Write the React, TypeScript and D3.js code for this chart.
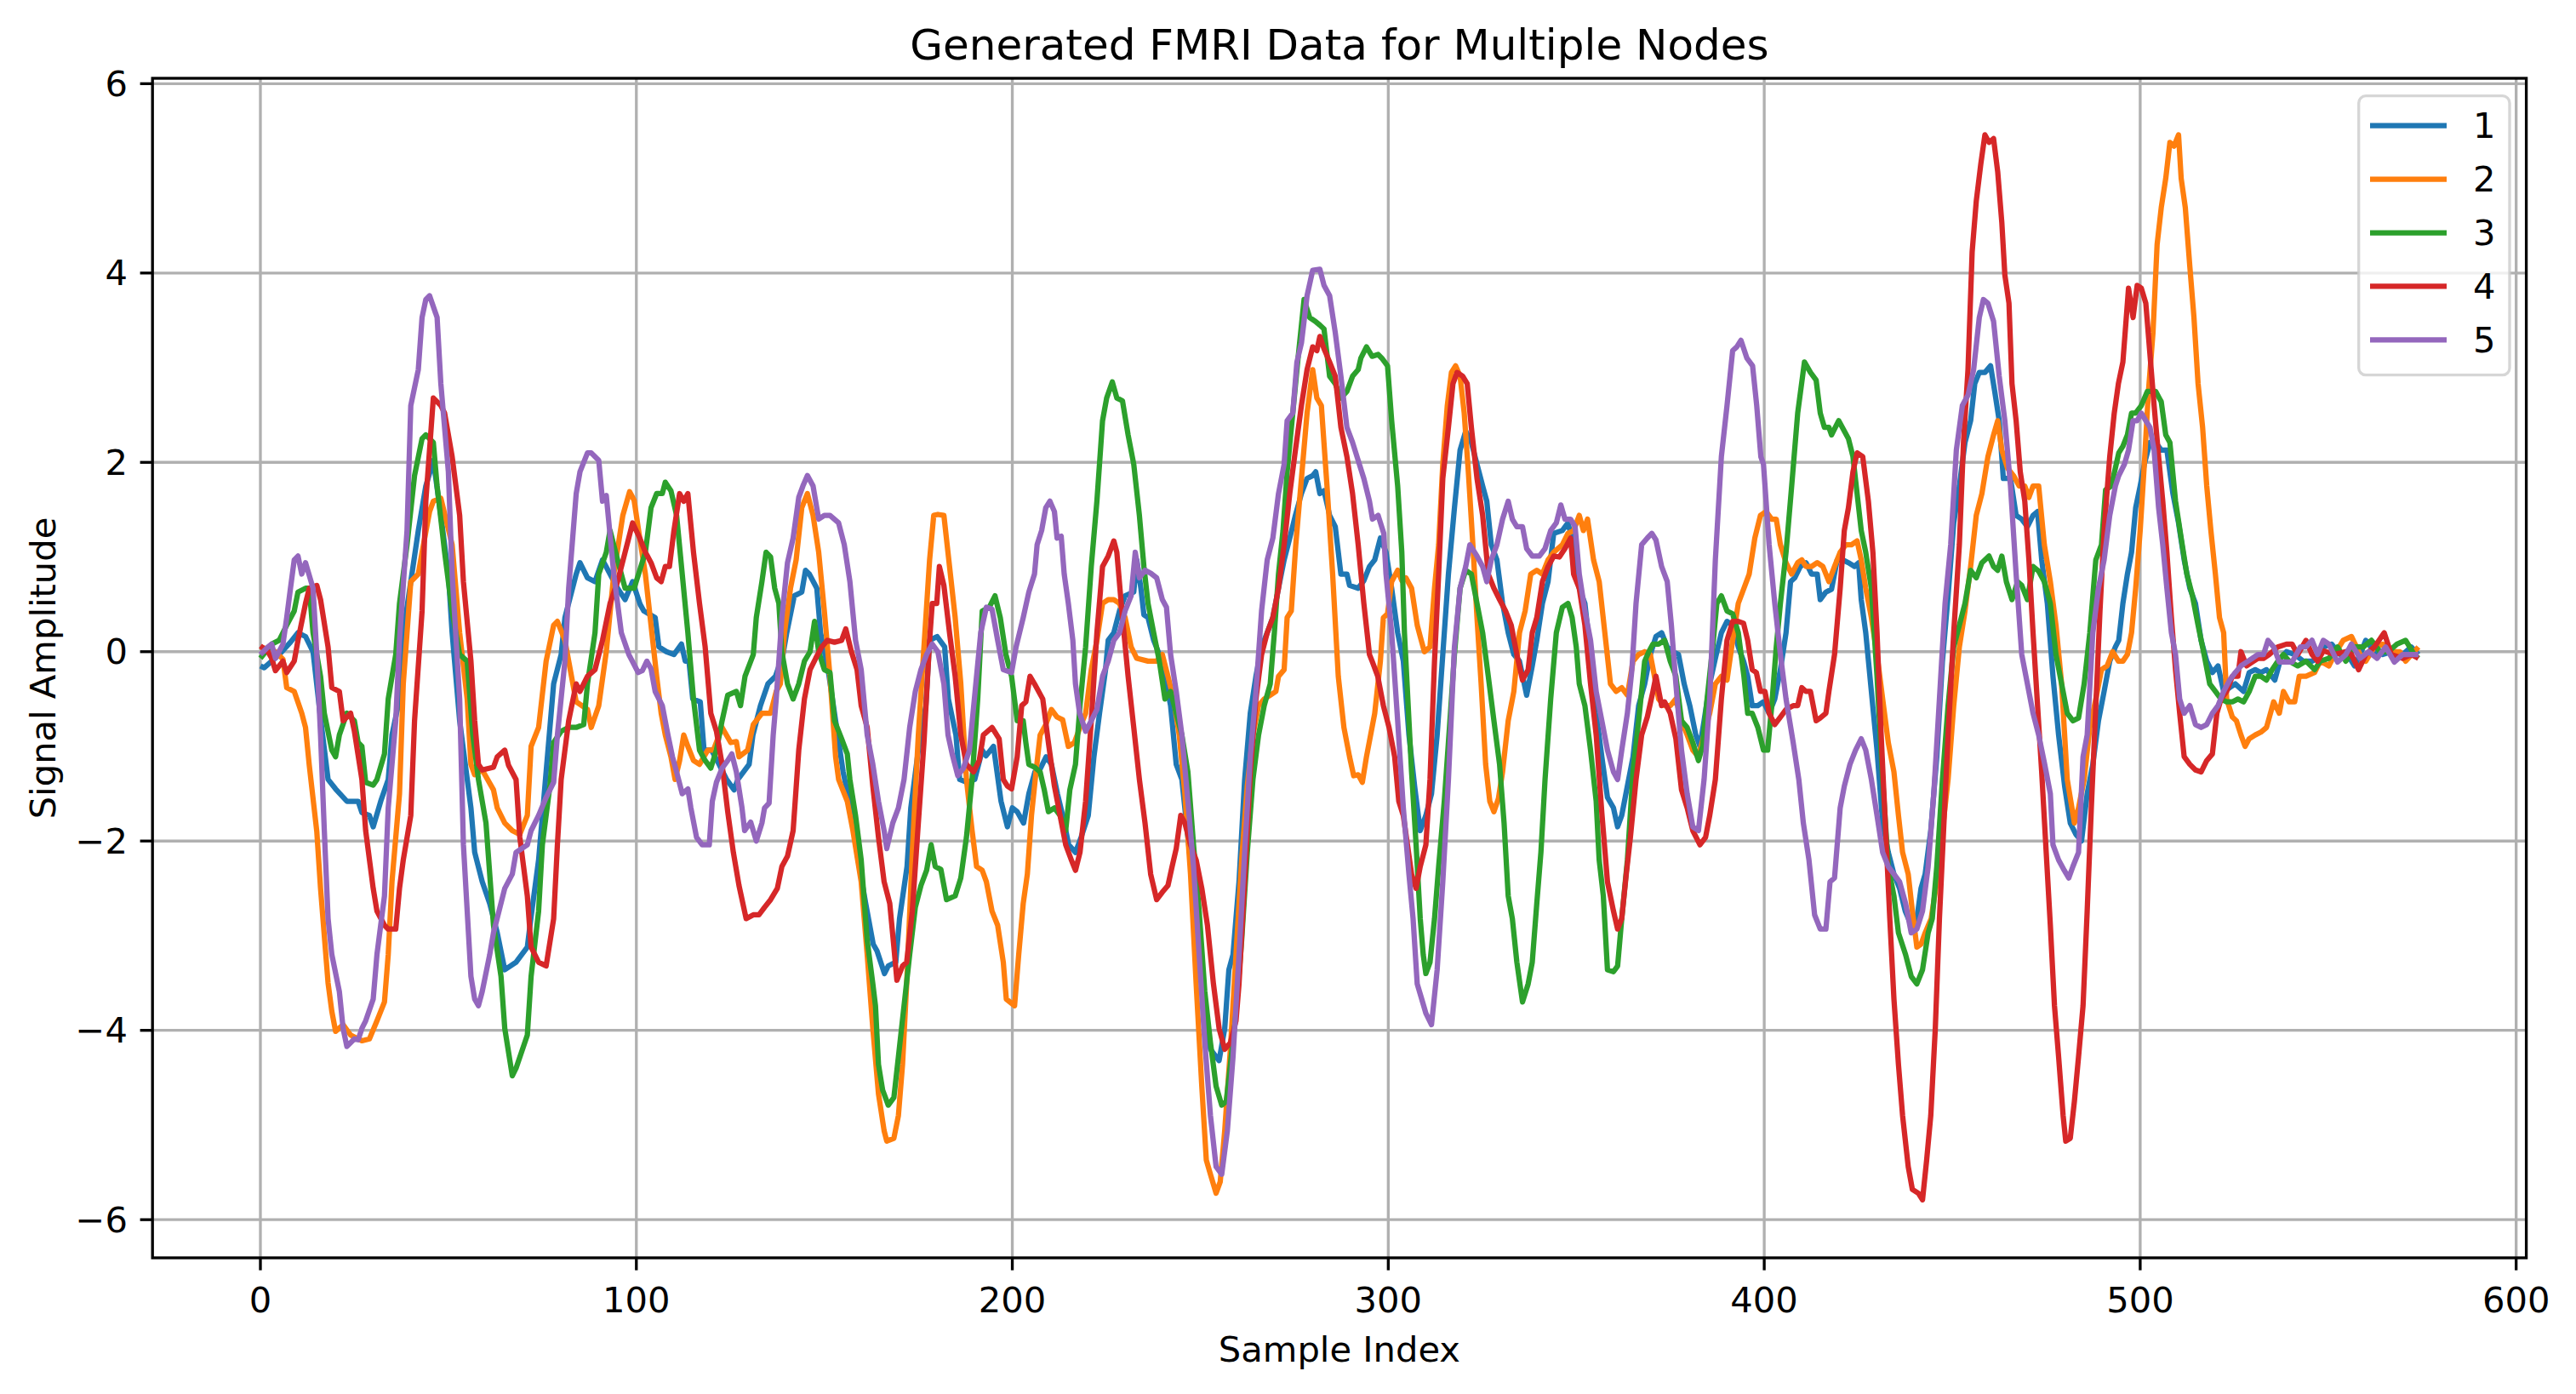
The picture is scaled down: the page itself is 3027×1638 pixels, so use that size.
import React from "react";
import * as d3 from "d3";

// ---------- data: [sample index, signal amplitude] ----------
const node1: [number, number][] = [
  [0,-0.15],[1,-0.17],[5,-0.03],[8,0.1],[10,0.2],[12,0.16],[14,0.0],[16,-0.7],[18,-1.35],[20,-1.45],[23,-1.58],[26,-1.58],[27,-1.7],[29,-1.73],[30,-1.85],[32,-1.58],[34,-1.35],[35,-0.88],[37,-0.5],[38,0.2],[40,0.74],[42,1.28],[44,1.75],[46,2.02],[48,1.44],[50,0.82],[51,0.2],[53,-0.73],[56,-1.65],[57,-2.12],[59,-2.43],[61,-2.66],[63,-2.97],[65,-3.36],[68,-3.28],[71,-3.12],[72,-2.8],[74,-2.2],[76,-1.27],[78,-0.34],[80,-0.03],[81,0.36],[84,0.82],[85,0.94],[87,0.78],[89,0.74],[91,0.97],[93,0.82],[95,0.67],[97,0.55],[99,0.74],
  [101,0.5],[102,0.43],[105,0.36],[106,0.05],[108,0.0],[110,-0.03],[112,0.08],[113,-0.1],[114,-0.1],[115,-0.5],[117,-0.53],[118,-1.04],[120,-1.04],[122,-1.19],[124,-1.35],[126,-1.46],[127,-1.35],[130,-1.19],[131,-0.88],[133,-0.57],[135,-0.34],[137,-0.26],[139,-0.03],[140,0.2],[142,0.59],[144,0.63],[145,0.86],[146,0.82],[148,0.67],[149,0.2],[151,-0.19],[153,-0.73],[155,-1.27],[157,-1.65],[159,-2.2],[161,-2.66],[163,-3.09],[164,-3.16],[166,-3.4],[167,-3.32],[169,-3.28],[170,-2.82],[172,-2.27],[173,-1.65],[175,-1.04],[177,-0.57],[178,0.12],[180,0.16],[182,0.05],[183,-0.5],[185,-0.88],[186,-1.35],[188,-1.38],[190,-1.35],[192,-1.04],[193,-1.1],[195,-1.0],
  [197,-1.58],[198.7,-1.85],[200,-1.65],[201.3,-1.69],[203,-1.81],[204.4,-1.5],[206,-1.27],[207.4,-1.24],[209,-1.11],[210.4,-1.19],[212,-1.5],[213.4,-1.73],[215,-2.04],[216.8,-2.12],[218.3,-1.96],[220.2,-1.73],[221.7,-1.11],[223.2,-0.65],[224.8,-0.19],[225.5,0.12],[227,0.2],[228.5,0.43],[230,0.59],[232.3,0.63],[233.1,0.97],[234.2,0.67],[235,0.39],[236.1,0.36],[237.6,0.12],[239.1,-0.03],[240.6,-0.26],[242.1,-0.57],[243.6,-1.19],[245.1,-1.35],[246.7,-1.96],[248.2,-2.5],[249.7,-3.2],[251.2,-3.9],[252.7,-4.2],[255,-4.32],[256.5,-3.98],[257.6,-3.36],[258.7,-3.2],[260.3,-2.43],[261.8,-1.35],[263.3,-0.65],[264.8,-0.26],[266.3,0.05],[267.8,0.2],[269.3,0.36],[270.8,0.67],[272.3,0.97],[273.8,1.2],[275.3,1.44],[276.9,1.67],[278.4,1.83],[279.9,1.86],[280.7,1.9],[281.8,1.67],[282.9,1.7],[284.4,1.44],[285.9,1.32],[287.4,0.82],[289,0.82],[289.7,0.7],[292,0.67],[293.5,0.75],
  [295,0.9],[296.4,0.97],[297.9,1.2],[299.4,1.05],[300.9,0.67],[302.5,0.2],[304,-0.1],[305.5,-0.88],[307,-1.42],[308.5,-1.89],[310,-1.73],[311.5,-1.5],[313,-0.88],[314.5,-0.03],[316,0.82],[317.6,1.52],[319.1,2.13],[320.6,2.33],[322.1,2.21],[323.6,1.98],[325.1,1.75],[326.2,1.59],[327.4,1.13],[328.9,0.97],[330.4,0.51],[331.9,0.2],[333.4,-0.03],[334.9,-0.1],[336.8,-0.46],[338.3,-0.15],[339.5,0.12],[341,0.51],[342.5,0.74],[344,1.25],[346.3,1.28],[347.8,1.36],[349.3,1.13],[350.8,0.67],[352.3,0.51],[353.8,-0.03],[355.3,-0.65],[356.8,-1.11],[358.3,-1.54],[359.9,-1.65],[361,-1.85],[362.1,-1.73],[363.6,-1.42],[365.1,-1.11],[366.6,-0.57],[368.2,-0.34],[369.7,-0.03],[371.2,0.16],[372.7,0.2],[374.2,0.05],[375.7,0.0],[377.2,-0.03],[378.7,-0.34],[380.2,-0.57],[381.8,-0.88],[382.9,-1.0],[384,-0.73],[385.5,-0.34],[387,-0.07],[388.6,0.2],[390.1,0.32],[391.6,0.28],[393.1,0.05],
  [394.5,-0.1],[395.6,-0.26],[396.8,-0.57],[398.3,-0.57],[399.8,-0.53],[401.3,-0.65],[402.8,-0.5],[404.3,-0.19],[405.8,0.2],[407,0.74],[408.1,0.78],[409.6,0.9],[411.1,0.94],[412.6,0.82],[414.1,0.82],[414.9,0.55],[416.4,0.63],[417.9,0.66],[419.4,0.97],[420.9,0.97],[422.4,0.94],[424,0.9],[425.1,0.94],[425.8,0.55],[427,0.2],[428.5,-0.42],[430,-1.04],[431.5,-1.81],[433,-2.12],[434.5,-2.35],[436,-2.5],[437.5,-2.74],[439.1,-2.89],[440.6,-2.82],[441.7,-2.5],[442.8,-2.35],[444.3,-1.89],[445.9,-1.11],[447.4,-0.1],[448.9,0.59],[450.4,1.36],[451.9,1.75],[453.4,2.21],[454.9,2.44],[456,2.83],[457.2,2.95],[458.7,2.95],[460.2,3.02],[461.3,2.75],[462.5,2.44],[463.6,1.83],[465.5,1.83],[467,1.44],[468.5,1.4],[470,1.32],[471.5,1.44],[472.7,1.48],[473.8,0.97],[475.3,0.51],[476.8,-0.26],[478.3,-0.88],[479.9,-1.42],[481.4,-1.81],[482.9,-1.93],[484.4,-2.0],[485.9,-1.5],[487.4,-1.19],[488.9,-0.73],[490.4,-0.42],[491.9,-0.1],[493.4,0.05],
  [494.3,0.12],[495.4,0.51],[496.6,0.82],[497.7,1.05],[498.8,1.52],[500,1.75],[501.1,1.98],[502.6,2.21],[504.1,2.21],[505.6,2.13],[507.1,2.13],[508.7,1.67],[510.2,1.36],[511.7,0.97],[513.2,0.67],[514.7,0.51],[516.2,0.12],[517.7,-0.1],[519.2,-0.22],[520.7,-0.15],[522.2,-0.42],[523.8,-0.38],[525.3,-0.34],[527.5,-0.42],[529,-0.22],[530.6,-0.19],[532.1,-0.22],[533.6,-0.19],[535.8,-0.3],[537.4,-0.07],[538.9,0.0],[541.1,-0.03],[543.4,-0.1],[545.7,-0.1],[547.2,-0.07],[548.7,0.05],[550.9,0.08],[553.2,-0.03],[554.7,0.0],[557,-0.15],[558.5,-0.03],[560,0.12],[562.3,0.0],[564.5,-0.03],[566.8,0.0],[569.8,-0.03],[572.1,0.05],[574,-0.03]
];

const node2: [number, number][] = [
  [0,0.05],[4,0.0],[6,-0.08],[7,-0.38],[9,-0.42],[11,-0.65],[12,-0.8],[13,-1.2],[15,-1.9],[16,-2.5],[17,-3.0],[18,-3.5],[19,-3.8],[20,-4.01],[22,-3.94],[24,-4.05],[27,-4.11],[29,-4.09],[31,-3.9],[33,-3.7],[34,-3.2],[35,-2.43],[37,-1.5],[38,-0.34],[40,0.74],[42,0.82],[43,1.05],[45,1.48],[46,1.59],[48,1.62],[51,1.13],[53,0.2],[55,-0.5],[56,-1.19],[57,-1.3],[59,-1.25],[62,-1.46],[63,-1.65],[65,-1.81],[67,-1.89],[69,-1.93],[71,-1.73],[72,-1.0],[74,-0.8],[76,-0.1],[78,0.28],[79,0.32],[81,0.12],[82,-0.1],[84,-0.53],[87,-0.61],[88,-0.8],[90,-0.57],[92,0.0],[94,0.82],[96.4,1.44],
  [98.2,1.69],[99.4,1.6],[100.9,1.2],[102.4,0.82],[103.9,0.28],[105.4,-0.26],[106.6,-0.65],[107.7,-0.88],[109.2,-1.11],[110.3,-1.35],[111.5,-1.15],[112.6,-0.88],[113.7,-1.0],[115.2,-1.15],[116.8,-1.19],[119,-1.04],[120.5,-1.04],[122.8,-0.8],[125.1,-0.96],[126.6,-0.95],[127.3,-1.11],[129.6,-1.04],[131.1,-0.77],[133.4,-0.65],[135.7,-0.65],[137.2,-0.42],[138.3,-0.34],[139.4,0.2],[141,0.67],[142.5,0.97],[144,1.52],[145.5,1.67],[147,1.44],[148.5,1.05],[150,0.43],[151.5,-0.26],[153,-1.11],[153.8,-1.35],[156.1,-1.58],[157.6,-1.89],[159.8,-2.43],[161.4,-3.2],[162.9,-3.98],[164.4,-4.67],[165.9,-5.06],[166.6,-5.17],[168.5,-5.14],[169.7,-4.9],[170.8,-4.36],[171.9,-3.51],[173.4,-2.12],[175,-0.88],[176.5,0.05],[178,0.97],[179.1,1.44],[180.2,1.45],[181.8,1.44],[183.3,0.9],[184.8,0.36],[186.3,-0.34],[187.8,-1.35],[189.3,-1.89],[190.5,-2.27],[192,-2.31],[193.1,-2.43],[194.6,-2.74],[196.1,-2.89],[197.6,-3.28],[198.4,-3.67],
  [200.6,-3.74],[201.7,-3.2],[202.9,-2.66],[204,-2.35],[205.1,-1.73],[206.3,-1.27],[207.4,-0.88],[208.9,-0.77],[210.4,-0.61],[211.9,-0.69],[213.4,-0.72],[214.9,-1.0],[216.5,-0.96],[218,-0.8],[219.5,-0.65],[221,-0.19],[222.5,0.12],[224,0.51],[225.5,0.55],[227,0.55],[228.5,0.51],[230,0.36],[231.6,0.05],[233.1,-0.07],[236.1,-0.1],[238.4,-0.1],[239.9,-0.03],[241.4,-0.26],[242.9,-0.5],[244.4,-0.88],[245.9,-1.5],[247.4,-2.35],[248.9,-3.51],[250.4,-4.59],[251.6,-5.37],[252.7,-5.52],[254.2,-5.72],[255.3,-5.6],[256.5,-5.06],[258,-4.2],[259.5,-3.2],[261,-2.2],[262.5,-1.42],[264,-0.88],[265.5,-0.57],[267,-0.5],[268.6,-0.46],[270.1,-0.42],[270.8,-0.26],[272.3,-0.19],[273.1,0.36],[274.2,0.43],[275.4,1.13],[276.9,1.83],[278.4,2.52],[279.9,2.98],[281,2.68],[282.2,2.6],[283.7,1.75],[285.2,0.82],[286.7,-0.26],[288.2,-0.8],[289.7,-1.11],[290.8,-1.31],[292,-1.3],[293.1,-1.38],[294.2,-1.11],
  [296.4,-0.65],[297.9,-0.1],[298.7,0.36],[299.8,0.4],[300.9,0.74],[302.5,0.86],[303.6,0.75],[304.7,0.78],[306.2,0.67],[307.7,0.28],[308.5,0.16],[309.6,0.0],[311.1,0.05],[312.3,0.67],[313.4,1.13],[314.5,1.98],[315.7,2.6],[316.8,2.95],[317.9,3.02],[319.1,2.91],[320.2,2.52],[321.3,1.9],[322.5,1.13],[323.6,0.36],[324.7,-0.34],[325.9,-1.19],[327,-1.58],[328.1,-1.69],[329.3,-1.55],[330.4,-1.27],[331.9,-0.73],[333.4,-0.42],[334.9,0.2],[336.4,0.43],[337.9,0.82],[339.5,0.86],[341,0.82],[342.5,0.97],[344,1.05],[346.3,1.13],[347.8,1.25],[349.3,1.28],[350.8,1.44],[351.9,1.28],[353,1.4],[354.6,0.97],[356.1,0.74],[357.6,0.2],[359.1,-0.34],[360.6,-0.42],[362.1,-0.38],[363.6,-0.46],[365.1,-0.1],[366.6,-0.03],[368.2,0.0],[369.7,-0.03],[370.8,-0.26],[371.9,-0.5],[373.5,-0.57],[375,-0.57],[376.5,-0.5],[378,-0.73],[379.5,-0.88],[381,-1.04],[382.5,-1.11],[384,-0.88],[385.5,-0.65],[387,-0.34],[388.6,-0.26],[390.1,-0.3],[391.6,0.12],[393.1,0.51],
  [394.6,0.67],[396,0.82],[397.5,1.2],[399,1.44],[400.5,1.48],[402,1.4],[403.2,1.4],[404.3,1.13],[405.8,0.94],[407.3,0.82],[408.9,0.94],[410,0.97],[411.1,0.9],[412.6,0.9],[414.1,0.94],[415.6,0.9],[417.2,0.74],[418.7,0.9],[420.2,1.05],[421.7,1.13],[423.2,1.13],[424.7,1.17],[425.8,0.97],[427,0.67],[428.5,0.36],[430,-0.03],[431.5,-0.5],[433,-0.96],[434.5,-1.27],[435.7,-1.73],[436.8,-2.12],[438.3,-2.35],[439.4,-2.74],[440.6,-3.12],[441.7,-3.09],[442.8,-2.97],[444.4,-2.82],[445.9,-2.43],[447.4,-1.89],[448.9,-1.35],[450.4,-0.57],[451.9,0.05],[453.4,0.43],[454.9,0.9],[456.4,1.44],[457.9,1.67],[459.5,2.06],[461,2.29],[462.1,2.44],[463.2,2.13],[464.7,1.94],[466.3,1.86],[467.8,1.75],[469.3,1.75],[470.4,1.63],[471.5,1.75],[473,1.75],[474.5,1.13],[476.1,0.74],[477.6,0.28],[479.1,-0.34],[480.6,-1.35],[482.5,-1.81],[483.6,-1.65],[485.1,-1.35],[486.6,-0.8],[488.2,-0.5],[489.7,-0.19],[491.2,-0.15],[492.7,0.0],[494.2,-0.1],
  [495.4,-0.1],[496.6,-0.03],[497.7,0.2],[498.8,0.67],[500,1.28],[501.1,1.98],[502.2,2.75],[503.4,3.37],[504.5,4.3],[505.6,4.69],[506.8,5.0],[507.9,5.38],[509,5.34],[510.2,5.46],[510.9,5.0],[512,4.69],[513.2,4.07],[514.3,3.53],[515.4,2.83],[516.6,2.37],[517.7,1.75],[518.8,1.28],[520,0.82],[521.1,0.36],[522.2,0.2],[523,-0.5],[524.5,-0.69],[525.6,-0.73],[526.8,-0.88],[527.9,-1.0],[529,-0.92],[530.6,-0.88],[532.1,-0.85],[533.6,-0.8],[535.5,-0.53],[537,-0.65],[538.1,-0.42],[539.6,-0.53],[541.1,-0.53],[542.3,-0.26],[544.1,-0.26],[546.4,-0.22],[547.9,-0.1],[550.2,-0.15],[551.7,-0.03],[554,0.12],[556.2,0.16],[558.5,-0.03],[560,-0.1],[562.3,0.05],[564.5,0.08],[566.8,0.0],[569.1,0.0],[570.6,-0.1],[572.9,0.0],[574,0.05]
];

const node3: [number, number][] = [
  [0,-0.07],[3,0.08],[5,0.12],[7,0.28],[9,0.43],[10,0.63],[12,0.67],[13,0.67],[14,0.2],[16,-0.26],[17,-0.65],[19,-1.04],[20,-1.11],[21,-0.88],[23,-0.65],[25,-0.73],[26,-0.96],[27,-1.0],[28,-1.38],[30,-1.41],[31,-1.35],[33,-1.08],[34,-0.5],[36,-0.03],[37,0.51],[39,1.13],[41,1.86],[43,2.25],[44,2.29],[46,2.21],[47,1.75],[49,1.05],[51,0.43],[53,-0.03],[55,-0.1],[56.5,-0.88],[58,-1.35],[60,-1.81],[61,-2.35],[62,-2.89],[64,-3.43],[65,-3.98],[67,-4.48],[68,-4.4],[71,-4.05],[72,-3.43],[74,-2.74],[75,-2.04],[77,-1.42],[78,-0.96],[80,-0.84],[82,-0.8],[84,-0.8],[86,-0.77],[87,-0.34],[89,0.2],[90,0.82],[92,1.05],[93,1.28],[95,0.97],[97,0.67],
  [99.4,0.67],[100.9,0.86],[102.4,1.05],[103.9,1.52],[105.4,1.67],[106.9,1.67],[107.7,1.79],[109.2,1.7],[110.7,1.44],[112.2,0.82],[113.7,0.2],[115.2,-0.5],[116.8,-1.04],[118.3,-1.15],[119.8,-1.23],[121.3,-1.04],[122.8,-0.73],[124.3,-0.46],[126.6,-0.42],[127.7,-0.57],[128.9,-0.26],[131.1,-0.03],[131.9,0.36],[133.4,0.74],[134.5,1.05],[135.7,1.0],[136.8,0.67],[137.9,0.51],[138.7,0.0],[140.2,-0.34],[141.7,-0.5],[143.2,-0.34],[144.7,-0.1],[146.2,0.0],[147.4,0.32],[148.5,0.0],[150,-0.19],[151.5,-0.22],[152.7,-0.73],[154.6,-0.92],[156.1,-1.08],[156.8,-1.35],[158.3,-1.73],[159.8,-2.2],[161.4,-3.05],[162.9,-3.51],[163.6,-3.74],[164.4,-4.36],[165.5,-4.63],[167,-4.79],[168.5,-4.71],[169.7,-4.28],[171.2,-3.74],[172.7,-3.2],[174.2,-2.7],[175.7,-2.47],[177.2,-2.31],[178.4,-2.04],[179.5,-2.27],[181,-2.3],[182.5,-2.62],[184.8,-2.58],[186.3,-2.39],[187.8,-1.96],[189.3,-1.35],[190.8,-0.5],[192,0.43],[193.9,0.47],[195.4,0.59],[196.8,0.36],[198.3,-0.03],[199.8,-0.26],
  [201.3,-0.73],[202.9,-0.73],[203.6,-0.96],[204.4,-1.19],[205.9,-1.22],[207.4,-1.27],[208.5,-1.46],[209.6,-1.69],[211.2,-1.65],[212.7,-1.73],[214.2,-1.89],[215.3,-1.46],[216.8,-1.19],[218,-0.57],[219.5,0.05],[221,0.9],[222.5,1.59],[224,2.44],[225.1,2.68],[226.6,2.85],[227.8,2.68],[229.3,2.65],[230.8,2.29],[232.3,1.98],[233.8,1.44],[235,0.9],[236.1,0.51],[237.6,0.2],[239.1,-0.1],[240.6,-0.5],[242.1,-0.42],[243.6,-0.65],[245.1,-0.88],[246.7,-1.27],[248.2,-2.04],[249.7,-2.74],[251.2,-3.59],[252.7,-4.13],[254.2,-4.59],[255.7,-4.79],[256.9,-4.75],[258,-4.36],[259.5,-3.82],[261,-3.05],[262.5,-2.12],[264,-1.35],[265.5,-0.88],[267,-0.57],[268.6,-0.34],[269.7,0.2],[270.8,0.82],[272,1.28],[273.1,1.9],[274.6,2.52],[276.1,3.14],[277.6,3.72],[279.1,3.53],[280.6,3.49],[281.8,3.45],[282.9,3.41],[284.4,2.91],[285.9,2.83],[287.4,2.68],[289,2.75],[290.5,2.91],[292,2.98],[292.7,3.1],[294.2,3.22],[295.7,3.12],[297.3,3.14],[298.3,3.1],[299.8,3.02],
  [300.9,2.44],[302.5,1.75],[303.6,1.05],[304.3,0.2],[305.5,-0.73],[306.2,-1.27],[307.4,-2.04],[308.5,-2.82],[309.3,-3.2],[310,-3.4],[311.1,-3.28],[312.3,-2.82],[313.4,-2.27],[314.9,-1.58],[316.4,-0.73],[317.6,-0.03],[319.1,0.67],[320.6,0.86],[322.1,0.82],[323.6,0.51],[325.1,0.2],[326.6,-0.26],[328.1,-0.73],[329.6,-1.19],[330.8,-1.81],[331.9,-2.58],[333,-2.82],[334.2,-3.28],[335.7,-3.7],[337.2,-3.51],[338.3,-3.28],[339.5,-2.66],[340.6,-2.12],[341.7,-1.35],[343.2,-0.5],[344.7,0.2],[346.3,0.47],[347.8,0.51],[348.9,0.36],[350,0.05],[350.8,-0.34],[352.3,-0.57],[353.8,-1.04],[355.3,-1.58],[356.1,-2.2],[357.2,-2.58],[358.3,-3.36],[359.9,-3.38],[361,-3.32],[362.1,-2.82],[363.6,-2.2],[365.1,-1.27],[366.6,-0.73],[368.2,-0.1],[369.3,0.0],[370.4,0.08],[371.9,0.08],[373.5,0.12],[375,-0.1],[376.5,-0.26],[378,-0.73],[379.5,-0.8],[381,-0.96],[382.5,-1.15],[383.6,-1.0],[384.8,-0.5],[386.3,0.05],[387.4,0.51],[388.6,0.59],[390.1,0.43],[391.6,0.4],[393.1,0.2],[394.6,-0.26],
  [395.6,-0.65],[396.8,-0.65],[398.3,-0.8],[399.8,-1.04],[400.9,-1.04],[402,-0.57],[403.2,0.05],[404.3,0.51],[405.8,1.05],[407.3,1.75],[408.9,2.52],[410.7,3.06],[412.3,2.95],[413.8,2.87],[414.9,2.52],[416,2.37],[417.2,2.37],[417.9,2.29],[419.8,2.44],[421.3,2.33],[422.4,2.25],[423.6,2.06],[424.7,1.67],[425.8,1.28],[427,1.05],[428.5,0.67],[430,-0.26],[431.5,-1.35],[433,-2.27],[434.5,-2.58],[435.7,-2.97],[437.6,-3.2],[439.1,-3.43],[440.6,-3.51],[442.1,-3.36],[443.6,-2.97],[444.7,-2.82],[445.9,-2.27],[447.4,-1.35],[448.9,-0.57],[450.4,0.05],[451.9,0.28],[453.4,0.51],[454.9,0.86],[456.4,0.78],[457.9,0.94],[459.8,1.01],[461,0.9],[462.1,0.86],[463.2,1.01],[464.4,0.74],[465.9,0.55],[467.4,0.74],[468.5,0.7],[470,0.55],[471.5,0.9],[473,0.85],[474.5,0.74],[476.1,0.51],[477.6,-0.03],[479.1,-0.34],[480.6,-0.65],[482.1,-0.73],[483.6,-0.7],[485.1,-0.34],[486.6,0.2],[488.2,0.97],[489.7,1.13],[490.8,1.71],[492.3,1.75],[493.4,1.94],
  [494.3,2.1],[495.4,2.17],[496.6,2.29],[497.7,2.52],[498.8,2.52],[500.3,2.6],[501.9,2.75],[503,2.75],[504.1,2.75],[505.6,2.64],[506.8,2.29],[507.9,2.21],[509.4,1.59],[510.9,1.2],[512.4,0.82],[513.9,0.59],[515.4,0.28],[517,-0.03],[518.5,-0.34],[520,-0.42],[521.5,-0.5],[523,-0.53],[524.5,-0.53],[526,-0.5],[527.5,-0.53],[529,-0.42],[530.6,-0.26],[532.1,-0.26],[533.6,-0.3],[535.1,-0.19],[536.6,-0.1],[538.1,-0.03],[539.6,-0.1],[541.9,-0.15],[544.1,-0.1],[546.4,-0.19],[547.9,-0.1],[550.2,-0.07],[552.5,0.05],[554.7,-0.1],[557,0.05],[559.3,0.05],[561.5,0.12],[563.8,0.0],[566,0.0],[568.3,0.08],[570.6,0.12],[572.9,-0.03],[574,-0.07]
];

const node4: [number, number][] = [
  [0,0.06],[2,0.0],[3,-0.07],[4,-0.2],[6,-0.1],[7,-0.22],[9,-0.1],[10,0.12],[12,0.51],[13,0.67],[15,0.7],[16,0.55],[18,0.05],[19,-0.38],[21,-0.42],[22,-0.73],[24,-0.65],[25,-0.84],[27,-1.35],[28,-1.89],[30,-2.5],[31,-2.74],[33,-2.89],[34,-2.93],[36,-2.93],[37,-2.5],[38,-2.2],[40,-1.73],[41,-0.73],[43,0.43],[44,1.59],[46,2.68],[48,2.6],[49,2.52],[51,2.06],[53,1.44],[54,0.74],[56,-0.1],[57,-0.73],[58,-1.19],[59,-1.25],[62,-1.22],[63,-1.11],[65,-1.04],[66,-1.2],[68,-1.35],[69,-1.96],[71,-2.58],[72,-3.12],[74,-3.28],[76,-3.32],[78,-2.82],[79,-2.04],[80,-1.35],[82,-0.73],[84,-0.34],[85,-0.42],[87,-0.26],[89,-0.19],[91,0.12],[93,0.51],[95,0.74],[97,1.05],[99,1.36],
  [100.9,1.2],[102.4,1.05],[103.9,0.94],[105.4,0.78],[106.6,0.74],[107.7,0.9],[108.8,0.9],[110,1.28],[111.5,1.67],[112.6,1.59],[113.7,1.67],[115.2,1.05],[116.8,0.51],[118.3,0.05],[119.8,-0.65],[121.3,-0.84],[122.8,-1.19],[124.3,-1.69],[125.8,-2.12],[127.3,-2.47],[129.2,-2.82],[131.1,-2.78],[132.6,-2.78],[134.1,-2.7],[135.7,-2.62],[137.5,-2.5],[138.7,-2.27],[140.2,-2.16],[141.7,-1.89],[143.2,-1.04],[144.7,-0.5],[146.2,-0.19],[147.7,-0.07],[149.3,0.05],[150.8,0.12],[152.7,0.1],[154.6,0.12],[155.7,0.24],[157.2,0.0],[158.7,-0.19],[159.8,-0.57],[161.4,-0.8],[162.9,-1.42],[164.4,-1.96],[165.9,-2.43],[167.4,-2.66],[168.5,-3.12],[169.3,-3.47],[170.8,-3.32],[171.9,-3.28],[173.4,-2.74],[175,-1.81],[176.5,-0.96],[178,0.12],[178.7,0.51],[179.9,0.51],[180.6,0.9],[181.8,0.7],[183.3,0.2],[184.8,-0.26],[186.3,-0.88],[187.8,-1.19],[189.7,-1.27],[191.2,-1.15],[192.3,-0.88],[194.6,-0.8],[196.5,-0.92],[197.6,-1.35],
  [198.7,-1.42],[199.8,-1.45],[201.3,-1.11],[202.5,-0.57],[203.6,-0.53],[204.7,-0.26],[205.9,-0.34],[208.1,-0.5],[209.6,-0.96],[211.2,-1.42],[212.7,-1.73],[214.2,-2.04],[215.7,-2.2],[216.8,-2.31],[218,-2.12],[219.5,-1.58],[221,-0.73],[222.5,0.2],[224,0.9],[225.5,1.01],[227,1.17],[227.8,1.05],[229.3,0.36],[230.8,-0.26],[232.3,-0.8],[233.8,-1.35],[235.3,-1.81],[236.8,-2.35],[238.4,-2.62],[239.9,-2.54],[241.4,-2.47],[242.5,-2.27],[243.6,-2.08],[244.8,-1.73],[245.9,-1.81],[247.4,-2.04],[248.9,-2.2],[250.4,-2.5],[251.9,-2.89],[253.5,-3.51],[255,-3.98],[256.5,-4.2],[258,-4.13],[259.5,-3.9],[260.3,-3.51],[261.8,-2.43],[263.3,-1.27],[264.8,-0.5],[266.3,-0.03],[267.8,0.2],[269.3,0.36],[270.8,0.67],[272.3,1.13],[273.8,1.67],[275.3,2.13],[276.9,2.6],[278.4,2.98],[279.9,3.22],[281,3.18],[281.8,3.33],[282.9,3.2],[284.4,3.06],[285.9,2.91],[287.4,2.37],[289,2.06],[290.5,1.67],[292,1.13],[293.5,0.51],[295,-0.03],
  [295.7,-0.1],[297.2,-0.26],[298.7,-0.57],[300.2,-0.8],[301.7,-1.11],[302.8,-1.58],[304,-1.73],[305.1,-2.04],[306.2,-2.35],[307.4,-2.5],[308.5,-2.27],[310,-2.04],[311.1,-1.35],[312.3,-0.1],[313.4,0.82],[314.5,1.83],[316,2.37],[317.2,2.83],[318.3,2.95],[319.8,2.91],[321,2.83],[322.1,2.37],[323.6,1.83],[325.1,1.44],[326.6,0.82],[328.1,0.67],[329.6,0.55],[331.2,0.43],[332.7,0.28],[334.2,-0.03],[335.7,-0.3],[337.2,-0.19],[338.3,0.2],[339.5,0.36],[341,0.74],[342.5,0.9],[344,1.01],[345.5,1.0],[347,1.09],[348.5,1.2],[349.3,0.82],[350.8,0.67],[352.3,0.28],[353.8,-0.34],[355.3,-0.88],[356.8,-1.7],[358.3,-2.43],[359.9,-2.74],[361,-2.93],[362.1,-2.82],[363.3,-2.35],[364.4,-1.96],[365.9,-1.35],[367.4,-0.88],[368.9,-0.69],[370.4,-0.42],[371.2,-0.26],[372.7,-0.57],[373.5,-0.53],[375,-0.65],[376.5,-0.92],[378,-1.46],[379.5,-1.65],[381,-1.89],[382.9,-2.04],[384.4,-1.96],[385.5,-1.73],[387,-1.35],[388.6,-0.5],[390.1,0.12],[391.6,0.32],[393.1,0.32],
  [394.5,0.3],[395.6,0.12],[396.8,-0.19],[397.9,-0.22],[399,-0.42],[400.2,-0.42],[401.3,-0.65],[402.8,-0.77],[404.3,-0.69],[405.8,-0.61],[407.7,-0.57],[408.9,-0.57],[410,-0.38],[411.1,-0.42],[412.3,-0.42],[413.8,-0.73],[414.9,-0.7],[416.4,-0.65],[417.2,-0.42],[418.7,-0.03],[420.2,0.67],[421.3,1.28],[422.4,1.52],[423.6,1.9],[424.7,2.1],[426.2,2.06],[427.7,1.59],[428.9,1.05],[430,0.2],[431.1,-0.88],[432.3,-1.89],[433.4,-2.82],[434.5,-3.67],[435.7,-4.36],[436.8,-4.9],[438.3,-5.44],[439.4,-5.68],[441,-5.72],[442.1,-5.79],[443.2,-5.37],[444.3,-4.9],[445.5,-3.98],[446.6,-2.82],[447.7,-1.89],[448.9,-0.88],[450.4,0.2],[451.9,1.13],[453,2.21],[454.2,2.98],[455.3,4.22],[456.4,4.76],[457.6,5.15],[458.7,5.46],[459.8,5.38],[461,5.42],[462.1,5.07],[463.2,4.53],[464,3.98],[465.1,3.68],[465.9,2.83],[467,2.44],[468.1,1.9],[469.3,1.59],[470.4,0.97],[471.5,0.2],[472.7,-0.57],[473.8,-1.27],[475,-2.12],[476.1,-2.89],[477.2,-3.74],[478.3,-4.28],[479.5,-4.9],[480.2,-5.17],[481.4,-5.14],[482.5,-4.75],[483.6,-4.28],[484.8,-3.74],[485.9,-2.74],[487,-1.65],[488.2,-0.57],[489.3,0.43],[490.4,1.28],[491.9,2.06],[493.1,2.52],[494.2,2.83],
  [495.4,3.06],[496.9,3.84],[498.1,3.53],[499.2,3.87],[500.3,3.84],[501.5,3.68],[502.6,3.14],[503.7,2.6],[504.9,2.06],[506,1.59],[507.1,1.05],[508.3,0.36],[509.4,-0.19],[510.5,-0.65],[511.7,-1.11],[513.2,-1.19],[514.7,-1.25],[516.2,-1.27],[517.7,-1.15],[519.2,-1.08],[520.4,-0.65],[521.5,-0.5],[523,-0.42],[524.5,-0.26],[526,-0.26],[526.8,0.0],[528.3,-0.15],[529.8,-0.11],[531.3,-0.07],[532.8,-0.07],[534.3,-0.03],[536.6,0.05],[538.9,0.08],[540.4,0.08],[541.9,-0.03],[544.1,0.12],[545.7,-0.03],[547.2,-0.1],[548.7,0.01],[551.7,-0.03],[554.7,0.0],[556.2,-0.03],[558.1,-0.19],[560,-0.03],[562.3,0.05],[564.9,0.2],[566.8,-0.03],[569.8,-0.07],[572.1,-0.03],[574,-0.07]
];

const node5: [number, number][] = [
  [0,-0.03],[2,0.05],[3,0.08],[4,-0.07],[6,0.08],[7,0.36],[8,0.67],[9,0.97],[10,1.01],[11,0.82],[12,0.94],[14,0.67],[15,-0.03],[16,-0.88],[17,-1.89],[18,-2.82],[19,-3.2],[21,-3.59],[22,-3.98],[23,-4.17],[25,-4.09],[26,-4.1],[27,-3.98],[28,-3.9],[30,-3.67],[31,-3.2],[33,-2.58],[34,-1.65],[36,-0.73],[37,0.12],[39,1.28],[40,2.6],[42,2.98],[43,3.53],[44,3.72],[45,3.76],[47,3.53],[48,2.83],[50,1.9],[51,0.82],[53,-0.5],[54,-2.04],[56,-3.43],[57,-3.67],[58,-3.74],[59,-3.59],[61,-3.2],[62,-2.97],[65,-2.5],[67,-2.35],[68,-2.12],[71,-2.04],[72,-1.89],[74,-1.73],[76,-1.54],[78,-1.38],[79,-0.88],[81,-0.1],[82,0.67],[84,1.67],[85,1.9],[87,2.1],[88,2.1],[90,2.02],[91,1.59],[92,1.65],[94,0.82],[96,0.2],[98,-0.03],
  [100.5,-0.22],[101.6,-0.2],[102.8,-0.1],[103.9,-0.18],[105,-0.42],[106.9,-0.57],[108.4,-0.88],[109.6,-1.11],[110.7,-1.27],[112.2,-1.5],[113.7,-1.45],[114.5,-1.65],[116,-1.96],[117.5,-2.04],[119.4,-2.04],[120.2,-1.58],[121.3,-1.38],[122.8,-1.23],[124.3,-1.15],[125.4,-1.08],[126.6,-1.27],[128.1,-1.65],[128.8,-1.89],[130.4,-1.8],[131.9,-2.0],[133.4,-1.81],[134.1,-1.65],[135.3,-1.6],[136.4,-0.88],[137.2,-0.5],[138.7,0.36],[140.2,0.94],[141.7,1.2],[143.2,1.63],[144.3,1.75],[145.5,1.86],[147,1.75],[148.5,1.4],[150,1.44],[151.5,1.44],[153.8,1.36],[155.3,1.13],[156.8,0.74],[158.3,0.12],[159.8,-0.19],[161.4,-0.88],[162.9,-1.19],[164.4,-1.58],[165.9,-1.89],[166.6,-2.08],[168.2,-1.81],[169.7,-1.65],[171.2,-1.35],[172.7,-0.8],[174.2,-0.42],[175.7,-0.19],[177.2,-0.03],[178.7,0.08],[180.2,0.0],[181.8,-0.34],[182.9,-0.88],[184,-1.08],[185.5,-1.31],[187,-1.23],[188.6,-1.04],[190.1,-0.42],[191.6,0.2],[193.1,0.47],[194.6,0.45],[196.1,0.12],[197.6,-0.19],
  [199.8,-0.22],[201,0.05],[202.9,0.36],[204.4,0.63],[205.9,0.82],[206.6,1.13],[207.8,1.28],[208.9,1.52],[210,1.59],[211.2,1.48],[211.9,1.2],[213,1.22],[213.8,0.82],[214.9,0.51],[216.1,0.12],[216.8,-0.34],[217.9,-0.65],[219.5,-0.84],[221,-0.73],[222.5,-0.61],[224,-0.26],[225.5,-0.1],[227,0.12],[228.5,0.2],[230,0.43],[231.6,0.59],[232.7,1.05],[233.8,0.78],[235.3,0.86],[236.8,0.83],[238.4,0.78],[239.9,0.55],[241,0.47],[242.1,-0.03],[243.6,-0.42],[245.1,-0.88],[246.7,-1.58],[248.2,-2.27],[249.7,-3.2],[251.2,-4.13],[252.7,-4.9],[254.2,-5.44],[255.7,-5.52],[257.2,-5.06],[258.7,-4.28],[260.3,-3.2],[261.8,-2.12],[263.3,-1.11],[264.8,-0.42],[266.3,0.43],[267.8,0.97],[269.3,1.2],[270.8,1.67],[272.3,1.98],[273.1,2.44],[274.6,2.52],[275.7,3.06],[276.9,3.26],[278.4,3.76],[279.9,4.03],[281.8,4.04],[282.9,3.87],[284.4,3.76],[285.9,3.37],[287.4,2.91],[289,2.37],[290.5,2.21],[292,2.02],[293.5,1.83],[295,1.59],[295.8,1.4],[297.3,1.44],[298.8,1.25],
  [299.4,0.82],[300.9,0.2],[302.5,-0.73],[304,-1.65],[305.5,-2.35],[306.6,-2.82],[307.7,-3.51],[308.9,-3.67],[310,-3.82],[311.5,-3.94],[313,-3.36],[314.5,-2.43],[316,-1.35],[317.6,0.05],[319.1,0.67],[320.6,0.9],[321.7,1.13],[323.6,1.01],[325.1,0.9],[326.2,0.74],[327.4,0.97],[328.9,1.13],[330.4,1.4],[331.9,1.59],[333,1.4],[334.2,1.32],[335.7,1.32],[336.8,1.09],[338.3,1.01],[340.2,1.01],[341.7,1.09],[343.2,1.28],[344.7,1.36],[345.9,1.55],[347,1.4],[348.5,1.4],[349.7,1.32],[350.8,0.82],[352.3,0.43],[353.8,0.12],[355.3,-0.42],[356.8,-0.73],[358.3,-1.04],[359.9,-1.27],[361,-1.35],[362.1,-1.04],[363.6,-0.65],[364.8,-0.19],[365.9,0.51],[367.4,1.13],[368.9,1.2],[370.1,1.25],[371.2,1.18],[372.7,0.9],[374.2,0.74],[375.3,0.28],[376.5,-0.34],[378,-1.04],[379.5,-1.5],[381,-1.85],[382.5,-1.89],[384,-1.35],[385.5,-0.5],[387,0.97],[388.6,2.06],[390.1,2.6],[391.6,3.18],[392.7,3.22],[393.8,3.29],[395.4,3.1],[396.9,3.02],[398,2.6],[399.1,2.06],
  [399.8,1.98],[401.3,1.13],[402.8,0.51],[404.3,-0.03],[405.8,-0.5],[407.7,-0.96],[409.2,-1.35],[410.4,-1.81],[411.9,-2.2],[413.4,-2.78],[414.9,-2.93],[416.4,-2.93],[417.5,-2.43],[418.7,-2.39],[420.2,-1.65],[421.3,-1.42],[422.8,-1.19],[424.3,-1.04],[425.8,-0.92],[427,-1.04],[428.5,-1.35],[430,-1.73],[431.5,-2.12],[433,-2.27],[434.5,-2.35],[436,-2.43],[437.6,-2.66],[439.1,-2.97],[440.6,-2.93],[442.1,-2.74],[443.6,-2.27],[445.1,-1.5],[446.6,-0.5],[448.1,0.51],[449.6,1.13],[451.1,2.13],[452.7,2.6],[454.2,2.71],[455.7,2.98],[457.2,3.53],[458.3,3.72],[459.5,3.68],[461,3.49],[462.5,2.91],[464,2.44],[465.5,1.75],[467,0.82],[468.5,-0.03],[470,-0.34],[471.5,-0.65],[473,-0.88],[474.6,-1.19],[476.1,-1.5],[476.8,-2.04],[478.3,-2.2],[479.8,-2.31],[481,-2.39],[482.1,-2.27],[483.6,-2.12],[484.8,-1.11],[485.9,-0.88],[487.4,0.2],[488.9,0.67],[490.4,0.97],[491.9,1.44],[493.4,1.75],
  [494.3,1.86],[495.8,1.98],[496.9,2.13],[498.1,2.44],[499.2,2.44],[500.3,2.52],[501.5,2.44],[502.6,2.37],[503.7,2.13],[504.9,1.52],[506,1.13],[507.1,0.67],[508.3,0.2],[509.4,-0.03],[510.5,-0.5],[511.7,-0.65],[513.2,-0.57],[514.7,-0.77],[516.2,-0.8],[517.7,-0.77],[519.2,-0.65],[520.7,-0.57],[522.2,-0.42],[523.8,-0.3],[525.3,-0.22],[526.8,-0.15],[528.3,-0.11],[529.8,-0.07],[531.3,-0.03],[532.8,-0.03],[534,0.12],[535.5,0.05],[537,-0.11],[538.5,-0.11],[540.4,-0.11],[542.6,0.05],[544.1,0.05],[545.7,0.12],[547.2,-0.03],[548.7,0.12],[550.2,0.08],[552.5,-0.11],[554.7,-0.03],[556.2,0.08],[558.5,-0.07],[560.8,0.0],[563,-0.07],[565.3,0.05],[567.6,-0.11],[569.8,-0.03],[572.1,-0.03],[574,-0.03]
];

const seriesNames = ["1", "2", "3", "4", "5"];
const seriesColors = ["#1f77b4", "#ff7f0e", "#2ca02c", "#d62728", "#9467bd"];
const xTickValues = [0, 100, 200, 300, 400, 500, 600];
const yTickValues = [-6, -4, -2, 0, 2, 4, 6];
const titleText = "Generated FMRI Data for Multiple Nodes";
const xLabelText = "Sample Index";
const yLabelText = "Signal Amplitude";

// ---------- layout ----------
const W = 3027;
const H = 1638;
const plotLeft = 179.2;
const plotRight = 2968.6;
const plotTop = 92;
const plotBottom = 1478;
const FONT = "'DejaVu Sans', 'Liberation Sans', sans-serif";
const tickFont = 41.67;
const lw = 3.33;
const tickLen = 14.6;

export default function App() {
  const allSeries = [node1, node2, node3, node4, node5];
  const x = d3.scaleLinear().domain([-28.7, 602.7]).range([plotLeft, plotRight]);
  const y = d3.scaleLinear().domain([-6.403, 6.057]).range([plotBottom, plotTop]);
  const line = d3
    .line<[number, number]>()
    .x((d) => x(d[0]))
    .y((d) => y(d[1]));

  const fmt = (v: number) => (v < 0 ? "\u2212" + Math.abs(v) : String(v));

  // legend geometry
  const legLeft = 2771.7;
  const legTop = 112.7;
  const legW = 177.3;
  const legH = 328;
  const rowY0 = 147.7;
  const rowGap = 62.9;

  return (
    <svg
      width={W}
      height={H}
      viewBox={`0 0 ${W} ${H}`}
      style={{ position: "absolute", left: 0, top: 0, background: "#fff" }}
      fontFamily={FONT}
    >
      <rect x={0} y={0} width={W} height={H} fill="#ffffff" />
      {/* grid */}
      <g stroke="#b0b0b0" strokeWidth={lw}>
        {xTickValues.map((t) => (
          <line key={"gx" + t} x1={x(t)} x2={x(t)} y1={plotTop} y2={plotBottom} />
        ))}
        {yTickValues.map((t) => (
          <line key={"gy" + t} x1={plotLeft} x2={plotRight} y1={y(t)} y2={y(t)} />
        ))}
      </g>
      {/* series */}
      <g fill="none" strokeWidth={6.25} strokeLinejoin="round" strokeLinecap="butt">
        {allSeries.map((s, i) => (
          <path key={"s" + i} d={line(s) || ""} stroke={seriesColors[i]} />
        ))}
      </g>
      {/* spines */}
      <rect
        x={plotLeft}
        y={plotTop}
        width={plotRight - plotLeft}
        height={plotBottom - plotTop}
        fill="none"
        stroke="#000"
        strokeWidth={lw}
      />
      {/* x ticks */}
      <g>
        {xTickValues.map((t) => (
          <g key={"xt" + t}>
            <line x1={x(t)} x2={x(t)} y1={plotBottom} y2={plotBottom + tickLen} stroke="#000" strokeWidth={lw} />
            <text x={x(t)} y={1542} textAnchor="middle" fontSize={tickFont} fill="#000">
              {fmt(t)}
            </text>
          </g>
        ))}
      </g>
      {/* y ticks */}
      <g>
        {yTickValues.map((t) => (
          <g key={"yt" + t}>
            <line x1={plotLeft - tickLen} x2={plotLeft} y1={y(t)} y2={y(t)} stroke="#000" strokeWidth={lw} />
            <text
              x={plotLeft - tickLen - 14.6}
              y={y(t)}
              textAnchor="end"
              dominantBaseline="central"
              fontSize={tickFont}
              fill="#000"
            >
              {fmt(t)}
            </text>
          </g>
        ))}
      </g>
      {/* labels */}
      <text x={(plotLeft + plotRight) / 2} y={70} textAnchor="middle" fontSize={50} fill="#000">
        {titleText}
      </text>
      <text x={(plotLeft + plotRight) / 2} y={1600} textAnchor="middle" fontSize={tickFont} fill="#000">
        {xLabelText}
      </text>
      <text
        transform={`translate(65, ${(plotTop + plotBottom) / 2}) rotate(-90)`}
        textAnchor="middle"
        fontSize={tickFont}
        fill="#000"
      >
        {yLabelText}
      </text>
      {/* legend */}
      <g>
        <rect
          x={legLeft}
          y={legTop}
          width={legW}
          height={legH}
          rx={8.3}
          ry={8.3}
          fill="#ffffff"
          fillOpacity={0.8}
          stroke="#cccccc"
          strokeOpacity={0.8}
          strokeWidth={lw}
        />
        {seriesNames.map((name, i) => {
          const cy = rowY0 + i * rowGap;
          return (
            <g key={"lg" + name}>
              <line x1={2785} x2={2875} y1={cy} y2={cy} stroke={seriesColors[i]} strokeWidth={6.25} />
              <text x={2906} y={cy} dominantBaseline="central" fontSize={tickFont} fill="#000">
                {name}
              </text>
            </g>
          );
        })}
      </g>
    </svg>
  );
}
